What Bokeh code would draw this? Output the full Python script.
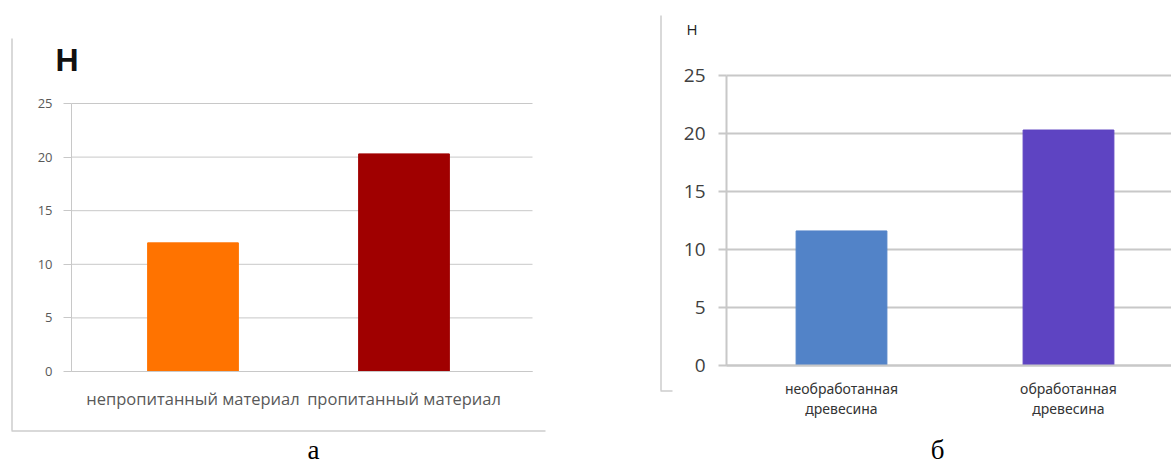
from bokeh.plotting import figure
from bokeh.models import Range1d, FixedTicker, Label, BoxAnnotation, ColumnDataSource
from bokeh.layouts import row
from bokeh.embed import file_html
from bokeh.resources import INLINE

# ---- data ----
left_categories = ["непропитанный материал", "пропитанный материал"]
left_values = [12.0, 20.3]
left_colors = ["#FF7300", "#A00000"]

right_categories = ["необработанная\nдревесина", "обработанная\nдревесина"]
right_values = [11.6, 20.3]
right_colors = ["#5283C8", "#5E44C2"]

y_ticks = [0, 5, 10, 15, 20, 25]
y_unit = "Н"
panel_labels = ["а", "б"]

GRID = "#c8c8c8"
BORDER = "#b4b4b4"
H = 467


def make_panel(width, cx0, step, y0px, y25px, ax_left, ax_right,
               cats, vals, colors, bar_w, grid_w):
    """Figure whose frame is the whole panel; pixel geometry -> ranges."""
    ppu_y = (y0px - y25px) / (y_ticks[-1] - y_ticks[0])
    y_lo = y_ticks[0] - (H - y0px) / ppu_y
    y_hi = y_ticks[-1] + y25px / ppu_y
    x_lo = -cx0 / step
    x_hi = (width - cx0) / step
    xa = (ax_left - cx0) / step
    xb = (ax_right - cx0) / step

    p = figure(width=width, height=H, x_range=Range1d(x_lo, x_hi),
               y_range=Range1d(y_lo, y_hi), output_backend="svg",
               toolbar_location=None, min_border=0)
    p.title.visible = False
    p.outline_line_color = None
    p.background_fill_color = "white"
    p.border_fill_color = "white"
    p.xgrid.visible = False
    p.ygrid.visible = False

    # horizontal grid lines limited to the plot area
    p.segment(x0=[xa] * len(y_ticks), x1=[xb] * len(y_ticks), y0=y_ticks,
              y1=y_ticks, line_color=GRID, line_width=grid_w)

    xs = list(range(len(cats)))
    src = ColumnDataSource(dict(x=xs, top=vals, color=colors))
    p.vbar(x="x", top="top", bottom=0, width=bar_w, fill_color="color",
           line_color="color", source=src)

    for ax in (p.xaxis[0], p.yaxis[0]):
        ax.axis_line_color = GRID
        ax.axis_line_width = grid_w
        ax.major_tick_line_color = GRID
        ax.major_tick_line_width = grid_w
        ax.minor_tick_line_color = None
        ax.major_tick_in = 0
    p.yaxis.ticker = FixedTicker(ticks=y_ticks)
    p.yaxis.fixed_location = xa
    p.yaxis.bounds = (y_ticks[0], y_ticks[-1])
    p.yaxis.major_tick_out = 8
    p.xaxis.ticker = FixedTicker(ticks=xs)
    p.xaxis.major_label_overrides = {i: c for i, c in enumerate(cats)}
    p.xaxis.fixed_location = 0
    p.xaxis.bounds = (xa, xb)
    p.xaxis.major_tick_out = 0
    return p


def add_frame(p, vx, vy0, vy1, hx1):
    # vertical and bottom border lines of the panel (pixel coords from top-left)
    kw = dict(left_units="screen", right_units="screen", bottom_units="screen",
              top_units="screen", fill_color=BORDER, fill_alpha=1, line_color=None)
    p.add_layout(BoxAnnotation(left=vx - 1, right=vx, bottom=H - vy1, top=H - vy0, **kw))
    p.add_layout(BoxAnnotation(left=vx - 1, right=hx1, bottom=H - vy1 - 1,
                               top=H - vy1, **kw))


def add_text(p, x, ymid, text, font, size, color, align="left", style="normal"):
    p.add_layout(Label(x=x, y=H - ymid, x_units="screen", y_units="screen",
                       text=text, text_font=font, text_font_size=size,
                       text_font_style=style, text_color=color,
                       text_align=align, text_baseline="middle"))


# ---- left chart (а) ----
p1 = make_panel(650, 192.5, 211, 371, 103, 71, 532,
                left_categories, left_values, left_colors, 0.43, 1)
p1.yaxis.major_label_text_font = "Open Sans"
p1.yaxis.major_label_text_font_size = "13px"
p1.yaxis.major_label_text_color = "#595959"
p1.yaxis.major_label_standoff = 11
p1.xaxis.major_label_text_font = "Open Sans"
p1.xaxis.major_label_text_font_size = "16.5px"
p1.xaxis.major_label_text_color = "#595959"
p1.xaxis.major_label_standoff = 15
add_frame(p1, 12, 38, 430, 545)
add_text(p1, 55, 59, y_unit, "Liberation Sans", "32px", "#111111", style="bold")
add_text(p1, 313, 449, panel_labels[0], "Liberation Serif", "27px", "#000000",
         align="center")

# ---- right chart (б) ----
p2 = make_panel(521, 191, 227, 365, 75, 76, 521,
                right_categories, right_values, right_colors, 0.40, 2)
p2.yaxis.major_label_text_font = "Open Sans"
p2.yaxis.major_label_text_font_size = "19px"
p2.yaxis.major_label_text_color = "#404040"
p2.yaxis.major_label_standoff = 13
p2.xaxis.major_label_text_font = "Noto Sans"
p2.xaxis.major_label_text_font_size = "14px"
p2.xaxis.major_label_text_color = "#333333"
p2.xaxis.major_label_text_line_height = 1.1
p2.xaxis.major_label_standoff = 13
add_frame(p2, 11, 15, 390, 22)
add_text(p2, 36, 28, y_unit, "Open Sans", "15px", "#222222")
add_text(p2, 287, 449, panel_labels[1], "Liberation Serif", "27px", "#000000",
         align="center")

layout = row(p1, p2, spacing=0)
open("out.html", "w").write(file_html(layout, INLINE))
